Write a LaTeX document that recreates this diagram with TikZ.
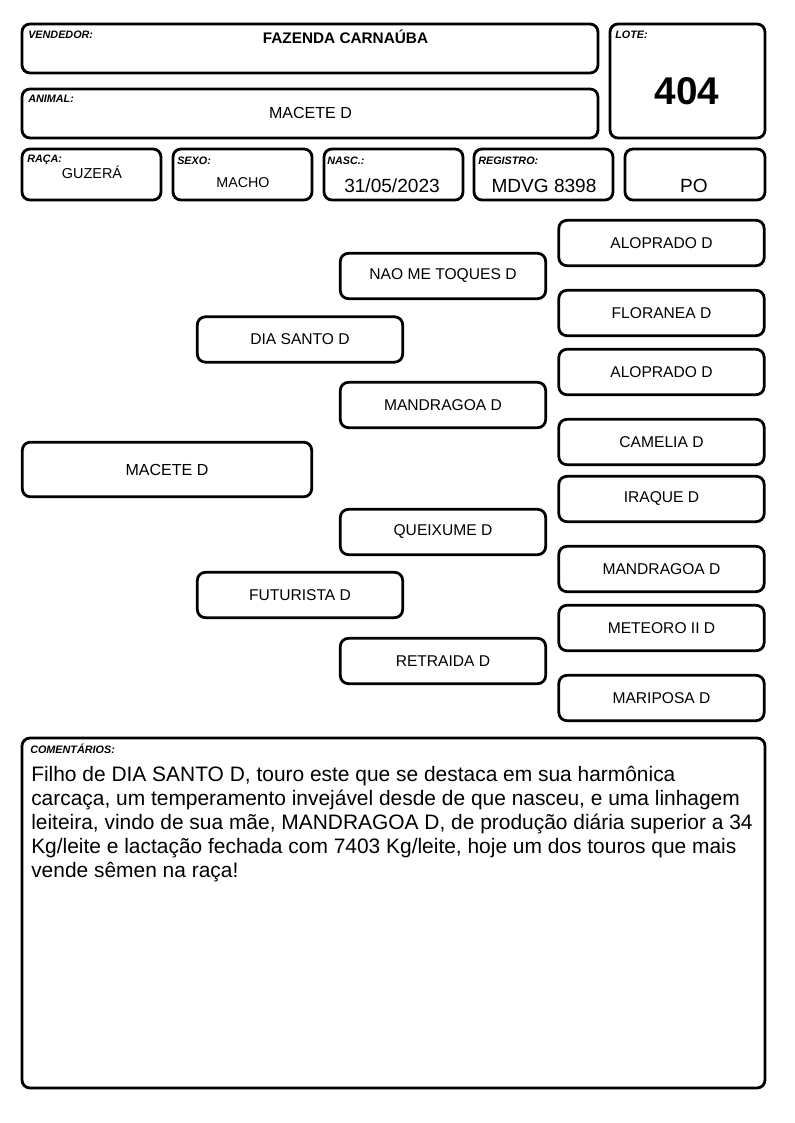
\documentclass[tikz,border=0pt]{standalone}
\usepackage{fontspec}
\setmainfont{Liberation Sans}

\begin{document}
\begin{tikzpicture}[x=0.75pt,y=-0.75pt,
  every node/.append style={inner sep=0pt},
  frame/.style={black,line width=2.1pt,rounded corners=6pt},
  lbl/.style={anchor=base west,font=\fontsize{8.1}{9}\selectfont\bfseries\itshape},
  val/.style={font=\fontsize{14.3}{16}\selectfont},
  ped/.style={draw,line width=2.1pt,rounded corners=6pt,minimum width=154pt,
    minimum height=34pt,font=\fontsize{11.7}{13}\selectfont}]
\useasboundingbox (0,0) rectangle (794,1123);
% header
\draw [frame] (22,24) rectangle (598,73);
\draw [frame] (610,24) rectangle (765,138);
\draw [frame] (22,89) rectangle (598,138);
\draw [frame] (22,149) rectangle (161,200);
\draw [frame] (173,149) rectangle (312,200);
\draw [frame] (324,149) rectangle (463,200);
\draw [frame] (474,149) rectangle (613,200);
\draw [frame] (625,149) rectangle (765,200);
\node [lbl] (lvend) at (28,39) {VENDEDOR:};
\node [font=\fontsize{11.5}{13}\selectfont\bfseries] (vend) at (345.5,37) {FAZENDA CARNAÚBA};
\node [lbl] (llote) at (615,39) {LOTE:};
\node [font=\fontsize{29}{32}\selectfont\bfseries] (lote) at (687,91) {404};
\node [lbl] (lanim) at (28,103) {ANIMAL:};
\node [font=\fontsize{12}{14}\selectfont] (anim) at (310.5,113) {MACETE D};
\node [lbl] (lraca) at (27,163) {RAÇA:};
\node [font=\fontsize{10.8}{13}\selectfont] (raca) at (92,172) {GUZERÁ};
\node [lbl] (lsexo) at (177,165) {SEXO:};
\node [font=\fontsize{10.7}{13}\selectfont] (sexo) at (243,183) {MACHO};
\node [lbl] (lnasc) at (327,165) {NASC.:};
\node [val] (nasc) at (392,186) {31/05/2023};
\node [lbl] (lreg) at (478,165) {REGISTRO:};
\node [val] (reg) at (544,186) {MDVG 8398};
\node [val] (po) at (694,186) {PO};
% pedigree
\node [ped,minimum width=217pt,minimum height=41pt,font=\fontsize{12}{14}\selectfont] (animal) at (167,469.5) {MACETE D};
\node [ped] (pai) at (300,339.5) {DIA SANTO D};
\node [ped] (mae) at (300,595) {FUTURISTA D};
\node [ped] (pp) at (443,276) {NAO ME TOQUES D};
\node [ped] (pm) at (443,405) {MANDRAGOA D};
\node [ped] (mp) at (443,532) {QUEIXUME D};
\node [ped] (mm) at (443,661) {RETRAIDA D};
\node [ped] (ppp) at (661.5,243) {ALOPRADO D};
\node [ped] (ppm) at (661.5,313) {FLORANEA D};
\node [ped] (pmp) at (661.5,372) {ALOPRADO D};
\node [ped] (pmm) at (661.5,442) {CAMELIA D};
\node [ped] (mpp) at (661.5,499) {IRAQUE D};
\node [ped] (mpm) at (661.5,569) {MANDRAGOA D};
\node [ped] (mmp) at (661.5,628) {METEORO II D};
\node [ped] (mmm) at (661.5,698) {MARIPOSA D};
% comentarios
\draw [frame] (22,738) rectangle (765,1088);
\node [lbl] (lcom) at (30,753) {COMENTÁRIOS:};
\node [anchor=north west,align=left,font=\fontsize{15.7}{18}\selectfont] (com) at (31,766)
  {Filho de DIA SANTO D, touro este que se destaca em sua harmônica\\
   carcaça, um temperamento invejável desde de que nasceu, e uma linhagem\\
   leiteira, vindo de sua mãe, MANDRAGOA D, de produção diária superior a 34\\
   Kg/leite e lactação fechada com 7403 Kg/leite, hoje um dos touros que mais\\
   vende sêmen na raça!};
\end{tikzpicture}
\end{document}
